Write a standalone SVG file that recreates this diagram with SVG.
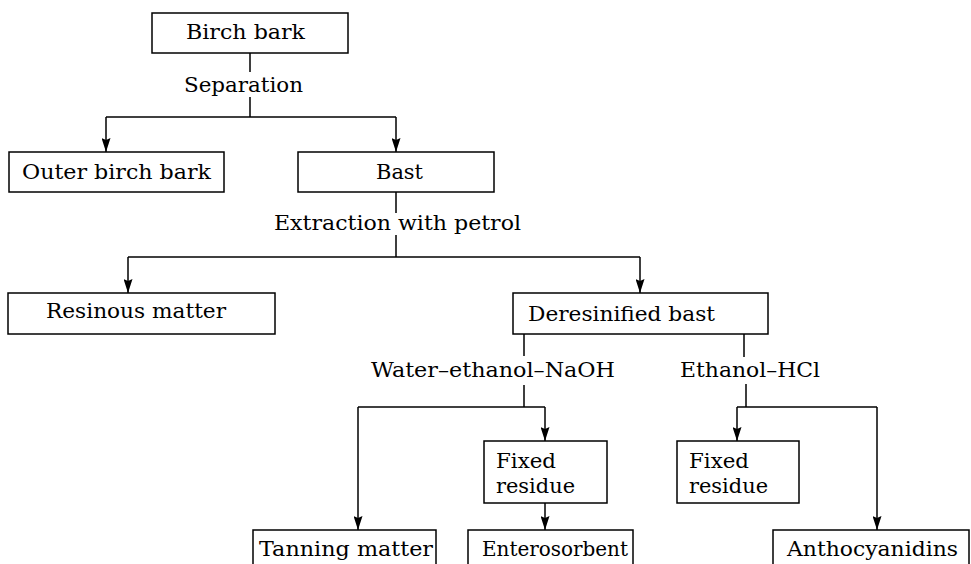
<svg xmlns="http://www.w3.org/2000/svg" width="971" height="564" viewBox="0 0 971 564">
<style>
.box{fill:#fff;stroke:#000;stroke-width:1.5}
.t{font-family:"DejaVu Serif","Liberation Serif",serif;font-size:20px;fill:#000}
.c{fill:none;stroke:#000;stroke-width:1.5}
</style>
<defs>
<marker id="ar" viewBox="0 0 14 9" refX="14" refY="4.5" markerWidth="14" markerHeight="9" markerUnits="userSpaceOnUse" orient="auto">
<path d="M0,0 L14,4.5 L0,9 L2,4.5 Z" fill="#000"/>
</marker>
</defs>
<rect width="971" height="564" fill="#fff"/>
<g id="connectors">
<path class="c" d="M250,53 V72 M250,97 V117"/>
<path class="c" d="M106,117 H396"/>
<path class="c" d="M106,117 V152" marker-end="url(#ar)"/>
<path class="c" d="M396,117 V152" marker-end="url(#ar)"/>
<path class="c" d="M396,192 V213 M396,235 V257"/>
<path class="c" d="M128,257 H640"/>
<path class="c" d="M128,257 V293" marker-end="url(#ar)"/>
<path class="c" d="M640,257 V293" marker-end="url(#ar)"/>
<path class="c" d="M524,334 V356 M524,385 V407"/>
<path class="c" d="M358,407 H545"/>
<path class="c" d="M358,407 V530" marker-end="url(#ar)"/>
<path class="c" d="M545,407 V441" marker-end="url(#ar)"/>
<path class="c" d="M744,334 V357 M746,384 V407"/>
<path class="c" d="M737,407 H877"/>
<path class="c" d="M737,407 V441" marker-end="url(#ar)"/>
<path class="c" d="M877,407 V530" marker-end="url(#ar)"/>
<path class="c" d="M545,503 V530" marker-end="url(#ar)"/>
</g>
<g id="labels">
<text class="t" x="184" y="92" textLength="119" lengthAdjust="spacingAndGlyphs">Separation</text>
<text class="t" x="274" y="230" textLength="247" lengthAdjust="spacingAndGlyphs">Extraction with petrol</text>
<text class="t" x="371" y="377" textLength="244" lengthAdjust="spacingAndGlyphs">Water–ethanol–NaOH</text>
<text class="t" x="680" y="377" textLength="140" lengthAdjust="spacingAndGlyphs">Ethanol–HCl</text>
</g>
<g id="birch-bark">
<rect class="box" x="152" y="13" width="196" height="40"/>
<text class="t" x="186" y="39" textLength="119" lengthAdjust="spacingAndGlyphs">Birch bark</text>
</g>
<g id="outer-birch-bark">
<rect class="box" x="9" y="152" width="215" height="40"/>
<text class="t" x="22" y="179" textLength="189" lengthAdjust="spacingAndGlyphs">Outer birch bark</text>
</g>
<g id="bast">
<rect class="box" x="298" y="152" width="196" height="40"/>
<text class="t" x="376" y="179" textLength="47" lengthAdjust="spacingAndGlyphs">Bast</text>
</g>
<g id="resinous-matter">
<rect class="box" x="8" y="293" width="267" height="41"/>
<text class="t" x="46" y="318" textLength="180" lengthAdjust="spacingAndGlyphs">Resinous matter</text>
</g>
<g id="deresinified-bast">
<rect class="box" x="513" y="293" width="255" height="41"/>
<text class="t" x="528" y="321" textLength="187" lengthAdjust="spacingAndGlyphs">Deresinified bast</text>
</g>
<g id="fixed-residue-1">
<rect class="box" x="484" y="441" width="123" height="62"/>
<text class="t" x="496" y="468" textLength="60" lengthAdjust="spacingAndGlyphs">Fixed</text>
<text class="t" x="496" y="493" textLength="79" lengthAdjust="spacingAndGlyphs">residue</text>
</g>
<g id="fixed-residue-2">
<rect class="box" x="677" y="441" width="122" height="62"/>
<text class="t" x="689" y="468" textLength="60" lengthAdjust="spacingAndGlyphs">Fixed</text>
<text class="t" x="689" y="493" textLength="79" lengthAdjust="spacingAndGlyphs">residue</text>
</g>
<g id="tanning-matter">
<rect class="box" x="253" y="530" width="183" height="50"/>
<text class="t" x="259" y="556" textLength="174" lengthAdjust="spacingAndGlyphs">Tanning matter</text>
</g>
<g id="enterosorbent">
<rect class="box" x="468" y="530" width="165" height="50"/>
<text class="t" x="482" y="556" textLength="146" lengthAdjust="spacingAndGlyphs">Enterosorbent</text>
</g>
<g id="anthocyanidins">
<rect class="box" x="773" y="530" width="196" height="50"/>
<text class="t" x="787" y="556" textLength="171" lengthAdjust="spacingAndGlyphs">Anthocyanidins</text>
</g>
</svg>
